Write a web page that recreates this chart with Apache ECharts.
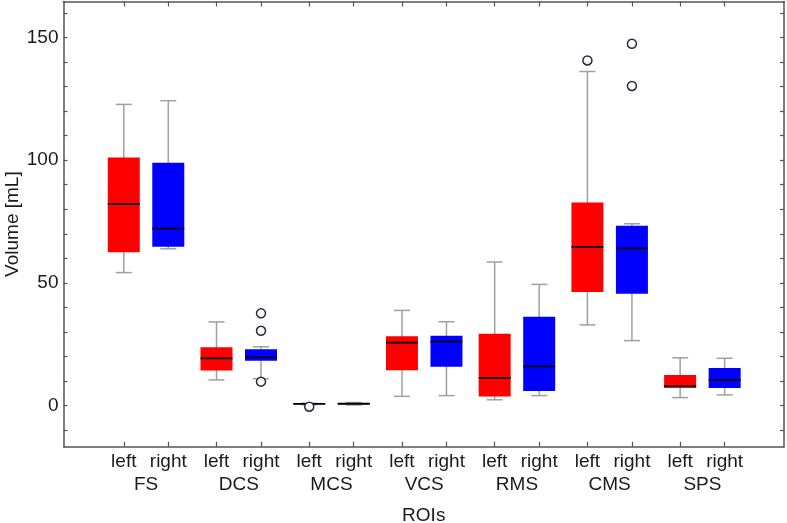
<!DOCTYPE html>
<html>
<head>
<meta charset="utf-8">
<script src="https://cdn.jsdelivr.net/npm/echarts@6/dist/echarts.min.js"></script>
<style>html,body{margin:0;padding:0;background:#fff;}#c{width:787px;height:523px;}</style>
</head>
<body>
<div id="c"></div>
<script>
// ---- data ----
var categories = ['FS', 'DCS', 'MCS', 'VCS', 'RMS', 'CMS', 'SPS'];
var sides = ['left', 'right'];
// [min, Q1, median, Q3, max]
var leftBoxes = [
  [54.2, 62.5, 82.1, 101.1, 122.7],
  [10.5, 14.3, 19.3, 23.8, 34.1],
  [0.4, 0.55, 0.7, 0.85, 1.0],
  [3.8, 14.4, 25.7, 28.3, 38.8],
  [2.4, 3.7, 11.3, 29.3, 58.5],
  [32.9, 46.3, 64.7, 82.7, 136.1],
  [3.3, 7.2, 8.0, 12.5, 19.5]
];
var rightBoxes = [
  [63.9, 64.7, 72.1, 98.9, 124.2],
  [11.0, 18.3, 19.7, 23.0, 24.0],
  [0.3, 0.6, 0.8, 1.0, 1.3],
  [4.1, 15.9, 26.1, 28.5, 34.2],
  [4.1, 6.0, 16.0, 36.2, 49.4],
  [26.5, 45.6, 64.1, 73.3, 74.1],
  [4.4, 7.2, 10.5, 15.4, 19.3]
];
// [category index, value]
var leftOutliers = [[2, -0.4], [5, 140.6]];
var rightOutliers = [[1, 37.6], [1, 30.5], [1, 9.8], [5, 147.4], [5, 130.2]];
var yTickValues = [-10, 0, 10, 20, 30, 40, 50, 60, 70, 80, 90, 100, 110, 120, 130, 140, 150, 160];
var yLabelValues = [0, 50, 100, 150];

// ---- build ----
var OFF = 0.24;
var sideColors = ['#ff0000', '#0000ff'];
function xPos(i, s) { return i + (s === 0 ? -OFF : OFF); }
var boxData = [];
[leftBoxes, rightBoxes].forEach(function (arr, s) {
  arr.forEach(function (b, i) {
    boxData.push([xPos(i, s), b[0], b[1], b[2], b[3], b[4], s]);
  });
});
var outData = [];
[leftOutliers, rightOutliers].forEach(function (arr, s) {
  arr.forEach(function (o) { outData.push([xPos(o[0], s), o[1]]); });
});
var xTickValues = [];
categories.forEach(function (c, i) { xTickValues.push(xPos(i, 0), xPos(i, 1)); });
var groupValues = categories.map(function (c, i) { return i; });

var FONT = 'Liberation Sans, Arial, sans-serif';
var FS = 19;
var AX = '#555555';
var TXT = '#1a1a1a';

function renderBox(params, api) {
  var x = api.value(0);
  var pMin = api.coord([x, api.value(1)]);
  var pQ1 = api.coord([x, api.value(2)]);
  var pMed = api.coord([x, api.value(3)]);
  var pQ3 = api.coord([x, api.value(4)]);
  var pMax = api.coord([x, api.value(5)]);
  var s = api.value(6);
  var bw = 32, cw = 16;
  var cx = pMed[0];
  var grey = { stroke: '#a0a0a0', lineWidth: 1.5 };
  return {
    type: 'group',
    children: [
      { type: 'line', shape: { x1: cx, y1: pMax[1], x2: cx, y2: pMin[1] }, style: grey },
      { type: 'line', shape: { x1: cx - cw / 2, y1: pMax[1], x2: cx + cw / 2, y2: pMax[1] }, style: grey },
      { type: 'line', shape: { x1: cx - cw / 2, y1: pMin[1], x2: cx + cw / 2, y2: pMin[1] }, style: grey },
      { type: 'rect', shape: { x: cx - bw / 2, y: pQ3[1], width: bw, height: Math.max(pQ1[1] - pQ3[1], 0.5) },
        style: { fill: sideColors[s], stroke: null } },
      { type: 'line', shape: { x1: cx - bw / 2, y1: pMed[1], x2: cx + bw / 2, y2: pMed[1] },
        style: { stroke: '#000', lineWidth: 1.8 } }
    ]
  };
}

var chart = echarts.init(document.getElementById('c'), null, { renderer: 'canvas' });
chart.setOption({
  animation: false,
  backgroundColor: '#fff',
  grid: { left: 63.5, right: 3, top: 1.5, bottom: 76.3, show: false, containLabel: false, outerBoundsMode: 'none' },
  xAxis: [
    {
      type: 'value', min: -0.89, max: 6.88, position: 'bottom',
      name: 'ROIs', nameLocation: 'middle', nameGap: 60,
      nameTextStyle: { fontSize: FS, color: TXT, fontFamily: FONT },
      axisLine: { show: true, onZero: false, lineStyle: { color: AX, width: 1.5 } },
      axisTick: { show: true, inside: true, length: 5, customValues: xTickValues, lineStyle: { color: AX, width: 1.2 } },
      axisLabel: {
        show: true, customValues: xTickValues, margin: 6, fontSize: FS, color: TXT, fontFamily: FONT,
        formatter: function (v) { var g = Math.round(v); return v < g ? sides[0] : sides[1]; }
      },
      splitLine: { show: false }
    },
    {
      type: 'value', min: -0.89, max: 6.88, position: 'bottom', offset: 0,
      axisLine: { show: false, onZero: false },
      axisTick: { show: false },
      axisLabel: {
        show: true, customValues: groupValues, margin: 29, fontSize: FS, color: TXT, fontFamily: FONT,
        formatter: function (v) { return categories[Math.round(v)]; }
      },
      splitLine: { show: false }
    },
    {
      type: 'value', min: -0.89, max: 6.88, position: 'top',
      axisLine: { show: true, onZero: false, lineStyle: { color: AX, width: 1.5 } },
      axisTick: { show: true, inside: true, length: 5, customValues: xTickValues, lineStyle: { color: AX, width: 1.2 } },
      axisLabel: { show: false },
      splitLine: { show: false }
    }
  ],
  yAxis: [
    {
      type: 'value', min: -16.7, max: 164.6, position: 'left',
      name: 'Volume [mL]', nameLocation: 'middle', nameGap: 41, nameMoveOverlap: false,
      nameTextStyle: { fontSize: FS, color: TXT, fontFamily: FONT },
      axisLine: { show: true, onZero: false, lineStyle: { color: AX, width: 1.5 } },
      axisTick: { show: true, inside: true, length: 4, customValues: yTickValues, lineStyle: { color: AX, width: 1.2 } },
      axisLabel: { show: true, customValues: yLabelValues, margin: 5, fontSize: FS, color: TXT, fontFamily: FONT },
      splitLine: { show: false }
    },
    {
      type: 'value', min: -16.7, max: 164.6, position: 'right',
      axisLine: { show: true, onZero: false, lineStyle: { color: AX, width: 1.5 } },
      axisTick: { show: true, inside: true, length: 4, customValues: yTickValues, lineStyle: { color: AX, width: 1.2 } },
      axisLabel: { show: false },
      splitLine: { show: false }
    }
  ],
  series: [
    {
      type: 'custom', xAxisIndex: 0, yAxisIndex: 0,
      renderItem: renderBox, data: boxData,
      encode: { x: 0, y: [1, 2, 3, 4, 5] }, clip: false
    },
    {
      type: 'scatter', xAxisIndex: 0, yAxisIndex: 0, data: outData,
      symbol: 'circle', symbolSize: 9,
      itemStyle: { color: '#ffffff', borderColor: '#2a2a40', borderWidth: 1.5, opacity: 1 }
    }
  ]
});
</script>
</body>
</html>
